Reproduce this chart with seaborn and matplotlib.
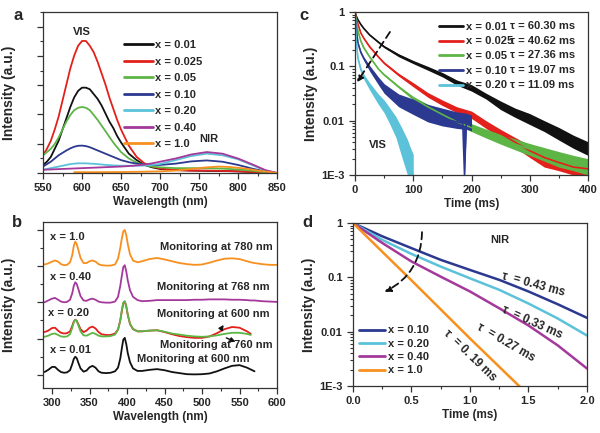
import numpy as np
import seaborn as sns
import matplotlib
matplotlib.use("Agg")
import matplotlib.pyplot as plt
from matplotlib.ticker import MultipleLocator, LogLocator, NullFormatter, FormatStrFormatter

sns.set_style("ticks")
plt.rcParams["font.family"] = ["Liberation Sans", "DejaVu Sans"]
plt.rcParams["font.weight"] = "bold"
plt.rcParams["axes.labelweight"] = "bold"

BLACK = "#111111"
RED = "#e3201b"
GREEN = "#5db546"
BLUE = "#2b3990"
CYAN = "#5bc2d9"
MAGENTA = "#a4399b"
ORANGE = "#f7901e"

# ---- panel a : emission spectra (fraction of axis height)
wl_a = [550, 555, 560, 565, 570, 575, 580, 585, 590, 595, 600, 605, 610, 615, 620, 625, 630,
        635, 640, 645, 650, 660, 670, 680, 690, 700, 720, 740, 760, 780, 800, 820, 835, 850]
a_001 = [0.05, 0.07, 0.1, 0.15, 0.2, 0.27, 0.34, 0.41, 0.47, 0.51, 0.53, 0.53, 0.52, 0.49, 0.46, 0.42,
         0.37, 0.32, 0.28, 0.23, 0.19, 0.12, 0.08, 0.05, 0.035, 0.025, 0.018, 0.015, 0.013, 0.012,
         0.01, 0.006, 0.003, 0.0]
a_0025 = [0.11, 0.15, 0.2, 0.27, 0.35, 0.45, 0.55, 0.65, 0.73, 0.79, 0.82, 0.82, 0.79, 0.75, 0.69, 0.62,
          0.55, 0.47, 0.40, 0.33, 0.27, 0.17, 0.10, 0.06, 0.04, 0.028, 0.018, 0.015, 0.015, 0.013,
          0.01, 0.006, 0.003, 0.0]
a_005 = [0.11, 0.13, 0.15, 0.18, 0.22, 0.27, 0.32, 0.36, 0.39, 0.405, 0.41, 0.405, 0.39, 0.36, 0.33,
         0.295, 0.26, 0.225, 0.19, 0.16, 0.13, 0.09, 0.065, 0.05, 0.04, 0.035, 0.03, 0.03, 0.03, 0.027,
         0.022, 0.013, 0.005, 0.0]
a_010 = [0.04, 0.055, 0.07, 0.09, 0.11, 0.125, 0.14, 0.153, 0.163, 0.169, 0.17, 0.167, 0.16, 0.15, 0.14,
         0.13, 0.12, 0.11, 0.1, 0.09, 0.08, 0.067, 0.058, 0.052, 0.05, 0.05, 0.058, 0.072, 0.078, 0.07,
         0.05, 0.025, 0.01, 0.0]
a_020 = [0.02, 0.025, 0.03, 0.035, 0.04, 0.045, 0.05, 0.055, 0.058, 0.06, 0.06, 0.06, 0.058, 0.057,
         0.055, 0.053, 0.05, 0.049, 0.047, 0.046, 0.045, 0.045, 0.045, 0.046, 0.05, 0.056, 0.08, 0.105,
         0.12, 0.11, 0.085, 0.045, 0.015, 0.0]
a_040 = [0.02, 0.021, 0.022, 0.023, 0.024, 0.025, 0.026, 0.027, 0.028, 0.029, 0.03, 0.031, 0.032, 0.033,
         0.034, 0.035, 0.036, 0.037, 0.038, 0.039, 0.04, 0.043, 0.047, 0.052, 0.06, 0.07, 0.09, 0.115,
         0.13, 0.12, 0.09, 0.05, 0.018, 0.0]
wl_a_orange = [590, 620, 650, 680, 700, 720, 740, 760, 775, 790, 810, 830, 850]
a_100 = [0.005, 0.005, 0.006, 0.008, 0.01, 0.015, 0.025, 0.035, 0.04, 0.037, 0.027, 0.012, 0.0]
labels_a = ["x = 0.01", "x = 0.025", "x = 0.05", "x = 0.10", "x = 0.20", "x = 0.40", "x = 1.0"]

# ---- panel b : excitation spectra (stacked, one unit per offset)
wl_b = [290, 295, 300, 304, 308, 312, 316, 320, 324, 327, 329, 331, 333, 335, 338, 342, 346, 350,
        354, 358, 362, 366, 372, 378, 384, 388, 391, 393, 395, 397, 399, 401, 404, 408, 414, 420,
        430, 440, 450, 460, 470, 480, 490, 500, 510, 520, 530, 540, 550, 560, 565, 570, 580, 590, 600]
b_001 = [0.08, 0.14, 0.22, 0.22, 0.14, 0.08, 0.06, 0.07, 0.13, 0.3, 0.44, 0.5, 0.46, 0.34, 0.18, 0.09,
         0.12, 0.21, 0.25, 0.2, 0.1, 0.06, 0.05, 0.06, 0.1, 0.2, 0.45, 0.72, 0.97, 1.02, 0.85, 0.6,
         0.35, 0.18, 0.11, 0.11, 0.14, 0.16, 0.13, 0.08, 0.05, 0.02, 0.015, 0.02, 0.04, 0.1, 0.18,
         0.25, 0.27, 0.2, 0.15, 0.1]
b_020_600 = [1.18, 1.22, 1.29, 1.3, 1.22, 1.16, 1.14, 1.15, 1.2, 1.35, 1.47, 1.52, 1.49, 1.4, 1.26,
             1.18, 1.22, 1.3, 1.33, 1.28, 1.18, 1.12, 1.1, 1.1, 1.14, 1.25, 1.5, 1.75, 1.97, 2.02,
             1.88, 1.65, 1.4, 1.26, 1.2, 1.2, 1.22, 1.23, 1.18, 1.12, 1.07, 1.04, 1.02, 1.02, 1.06,
             1.15, 1.26, 1.32, 1.3, 1.2, 1.13]
b_020_760 = [1.05, 1.08, 1.13, 1.14, 1.1, 1.06, 1.05, 1.06, 1.12, 1.3, 1.45, 1.52, 1.48, 1.37, 1.2,
             1.09, 1.08, 1.12, 1.16, 1.13, 1.08, 1.06, 1.06, 1.07, 1.11, 1.24, 1.5, 1.77, 1.99, 2.03,
             1.9, 1.66, 1.41, 1.27, 1.2, 1.2, 1.22, 1.23, 1.19, 1.14, 1.11, 1.08, 1.06, 1.05, 1.06,
             1.09, 1.13, 1.16, 1.16, 1.13, 1.1]
b_040 = [2.0, 2.05, 2.1, 2.12, 2.07, 2.02, 2.0, 2.01, 2.07, 2.25, 2.45, 2.55, 2.5, 2.37, 2.17, 2.05,
         2.04, 2.08, 2.1, 2.07, 2.02, 2.0, 1.99, 1.99, 2.02, 2.15, 2.45, 2.72, 2.97, 3.02, 2.85, 2.6,
         2.33, 2.15, 2.06, 2.03, 2.04, 2.06, 2.06, 2.06, 2.06, 2.06, 2.07, 2.07, 2.08, 2.08, 2.08,
         2.07, 2.07, 2.06, 2.05, 2.05, 2.03, 2.02, 2.01]
b_100 = [3.04, 3.07, 3.12, 3.15, 3.12, 3.05, 3.02, 3.03, 3.1, 3.3, 3.55, 3.67, 3.6, 3.45, 3.22, 3.08,
         3.08, 3.13, 3.15, 3.12, 3.05, 3.02, 3.01, 3.01, 3.04, 3.2, 3.5, 3.75, 3.95, 3.99, 3.85, 3.6,
         3.32, 3.15, 3.1, 3.13, 3.19, 3.22, 3.18, 3.13, 3.08, 3.05, 3.03, 3.04, 3.09, 3.15, 3.2, 3.21,
         3.19, 3.13, 3.1, 3.08, 3.05, 3.03, 3.03]

# ---- panel c : VIS decay (ms), centre line plus read noise envelope
t_c = [0, 2, 5, 10, 15, 25, 40, 50, 75, 100, 125, 150, 175, 200, 225, 250, 275, 300, 325, 350, 375, 400]
c_001 = [1, 0.85, 0.72, 0.59, 0.5, 0.38, 0.28, 0.23, 0.16, 0.12, 0.092, 0.07, 0.05, 0.04, 0.028,
         0.019, 0.014, 0.0105, 0.0078, 0.0056, 0.004, 0.003]
c_001_lo = [1, 0.84, 0.71, 0.58, 0.49, 0.37, 0.27, 0.22, 0.15, 0.112, 0.085, 0.064, 0.045, 0.035,
            0.025, 0.016, 0.0115, 0.0085, 0.0063, 0.0044, 0.0031, 0.0023]
c_001_hi = [1, 0.86, 0.73, 0.60, 0.51, 0.39, 0.29, 0.24, 0.17, 0.128, 0.1, 0.077, 0.056, 0.046,
            0.032, 0.023, 0.017, 0.0135, 0.01, 0.0075, 0.0054, 0.0041]
c_0025 = [1, 0.8, 0.6, 0.41, 0.33, 0.23, 0.15, 0.115, 0.07, 0.046, 0.03, 0.021, 0.016, 0.013, 0.0085,
          0.0058, 0.004, 0.0028, 0.0021, 0.0017, 0.0014, 0.0013]
c_0025_lo = [1, 0.79, 0.59, 0.40, 0.32, 0.22, 0.145, 0.11, 0.066, 0.042, 0.027, 0.019, 0.014, 0.011,
             0.0072, 0.0048, 0.0032, 0.0021, 0.0014, 0.0012, 0.001, 0.001]
c_0025_hi = [1, 0.81, 0.61, 0.42, 0.34, 0.24, 0.155, 0.12, 0.074, 0.05, 0.033, 0.024, 0.018, 0.015,
             0.01, 0.0069, 0.0049, 0.0035, 0.0028, 0.0023, 0.0019, 0.0017]
c_005 = [1, 0.7, 0.45, 0.29, 0.22, 0.15, 0.09, 0.07, 0.042, 0.026, 0.018, 0.013, 0.0095, 0.0075,
         0.0058, 0.0046, 0.0037, 0.003, 0.0025, 0.002, 0.0017, 0.0014]
c_005_lo = [1, 0.69, 0.44, 0.28, 0.21, 0.145, 0.087, 0.067, 0.04, 0.024, 0.016, 0.0115, 0.0082,
            0.0063, 0.0048, 0.0037, 0.0029, 0.0023, 0.0018, 0.0014, 0.0012, 0.001]
c_005_hi = [1, 0.71, 0.46, 0.30, 0.23, 0.155, 0.093, 0.073, 0.044, 0.028, 0.02, 0.0148, 0.011,
            0.0088, 0.007, 0.0056, 0.0046, 0.0038, 0.0032, 0.0027, 0.0023, 0.002]
t_c10 = [0, 2, 5, 10, 15, 25, 40, 50, 75, 100, 125, 150, 175, 185, 188, 191, 200]
c_010 = [1, 0.5, 0.27, 0.18, 0.14, 0.093, 0.055, 0.04, 0.024, 0.018, 0.014, 0.011, 0.0095, 0.009,
         0.001, 0.009, 0.008]
c_010_lo = [1, 0.49, 0.26, 0.17, 0.13, 0.082, 0.046, 0.032, 0.018, 0.013, 0.0095, 0.008, 0.0072,
            0.007, 0.001, 0.007, 0.0065]
c_010_hi = [1, 0.51, 0.28, 0.19, 0.15, 0.104, 0.064, 0.048, 0.031, 0.025, 0.02, 0.017, 0.0145,
            0.014, 0.014, 0.014, 0.013]
t_c20 = [0, 2, 5, 10, 15, 25, 40, 50, 60, 70, 80, 90, 95, 100]
c_020 = [1, 0.3, 0.14, 0.087, 0.065, 0.043, 0.025, 0.018, 0.012, 0.008, 0.0045, 0.0022, 0.0015, 0.001]
c_020_lo = [1, 0.29, 0.13, 0.08, 0.058, 0.037, 0.02, 0.014, 0.0085, 0.005, 0.0022, 0.001, 0.001, 0.001]
c_020_hi = [1, 0.31, 0.15, 0.095, 0.072, 0.05, 0.031, 0.024, 0.017, 0.012, 0.0075, 0.0045, 0.0032, 0.0024]
labels_c = ["x = 0.01", "x = 0.025", "x = 0.05", "x = 0.10", "x = 0.20"]
tau_c = ["τ = 60.30 ms", "τ = 40.62 ms", "τ = 27.36 ms", "τ = 19.07 ms", "τ = 11.09 ms"]

# ---- panel d : NIR decay (ms)
t_d = [0, 0.25, 0.5, 0.75, 1.0, 1.25, 1.5, 1.75, 2.0]
d_010 = [1, 0.57, 0.345, 0.21, 0.137, 0.09, 0.055, 0.032, 0.018]
d_020 = [1, 0.49, 0.27, 0.158, 0.096, 0.059, 0.033, 0.0175, 0.0085]
d_040 = [1, 0.43, 0.196, 0.103, 0.055, 0.027, 0.013, 0.0056, 0.0021]
t_d100 = [0, 0.5, 1.0, 1.42, 1.5]
d_100 = [1, 0.088, 0.0075, 0.001, 0.0007]
labels_d = ["x = 0.10", "x = 0.20", "x = 0.40", "x = 1.0"]
tau_d = ["τ  = 0.43 ms", "τ  = 0.33 ms", "τ  = 0.27 ms", "τ  = 0. 19 ms"]

TXT = dict(fontsize=8, fontweight="bold")


def style_ax(ax):
    ax.tick_params(which="major", direction="out", length=4, width=0.9, labelsize=8,
                   top=False, right=False, color="#333333")
    ax.tick_params(which="minor", direction="out", length=2.2, width=0.8, top=False, right=False,
                   color="#333333")
    for s in ax.spines.values():
        s.set_linewidth(0.9)
        s.set_color("#333333")
    for lab in ax.get_xticklabels() + ax.get_yticklabels():
        lab.set_fontweight("bold")


fig = plt.figure(figsize=(6, 4.33), dpi=100)

# ================= a
ax = fig.add_axes([0.0717, 0.6005, 0.39, 0.3718])
for x, y, c, lab in [(wl_a, a_001, BLACK, labels_a[0]), (wl_a, a_0025, RED, labels_a[1]),
                     (wl_a, a_005, GREEN, labels_a[2]), (wl_a, a_010, BLUE, labels_a[3]),
                     (wl_a, a_020, CYAN, labels_a[4]), (wl_a, a_040, MAGENTA, labels_a[5]),
                     (wl_a_orange, a_100, ORANGE, labels_a[6])]:
    sns.lineplot(x=x, y=y, color=c, lw=1.3, label=lab, ax=ax)
ax.set_xlim(550, 850)
ax.set_ylim(0, 1)
ax.xaxis.set_major_locator(MultipleLocator(50))
ax.xaxis.set_minor_locator(MultipleLocator(25))
ax.yaxis.set_major_locator(MultipleLocator(1 / 5.5))
ax.yaxis.set_minor_locator(MultipleLocator(0.5 / 5.5))
ax.set_yticklabels([])
ax.set_xlabel("Wavelength (nm)", fontsize=8.5, labelpad=2)
ax.set_ylabel("Intensity (a.u.)", fontsize=10, labelpad=12)
leg = ax.legend(loc="upper left", bbox_to_anchor=(0.345, 0.826), frameon=False,
                prop=dict(size=8, weight="bold"), handlelength=2.6, handletextpad=0.2,
                labelspacing=0.59, borderpad=0, borderaxespad=0)
for ln in leg.get_lines():
    ln.set_linewidth(2)
ax.text(0.167, 0.876, "VIS", transform=ax.transAxes, ha="center", va="center", **TXT)
ax.text(0.709, 0.211, "NIR", transform=ax.transAxes, ha="center", va="center", **TXT)
style_ax(ax)

# ================= b
ax = fig.add_axes([0.0717, 0.1039, 0.39, 0.3834])
for y, c in [(b_001, BLACK), (b_020_600, RED), (b_020_760, GREEN), (b_040, MAGENTA), (b_100, ORANGE)]:
    sns.lineplot(x=wl_b[:len(y)], y=y, color=c, lw=1.3, ax=ax)
ax.set_xlim(288, 600)
ax.set_ylim(-0.36, 4.21)
ax.xaxis.set_major_locator(MultipleLocator(50))
ax.xaxis.set_minor_locator(MultipleLocator(25))
ax.yaxis.set_major_locator(MultipleLocator(1))
ax.yaxis.set_minor_locator(MultipleLocator(0.5))
ax.set_yticklabels([])
ax.set_xlabel("Wavelength (nm)", fontsize=8.5, labelpad=2)
ax.set_ylabel("Intensity (a.u.)", fontsize=10, labelpad=12)
for tx, ty, s in [(0.03, 0.91, "x = 1.0"), (0.03, 0.669, "x = 0.40"),
                  (0.021, 0.452, "x = 0.20"), (0.03, 0.23, "x = 0.01")]:
    ax.text(tx, ty, s, transform=ax.transAxes, ha="left", va="center", **TXT)
for tx, ty, s in [(0.983, 0.849, "Monitoring at 780 nm"), (0.97, 0.608, "Monitoring at 768 nm"),
                  (0.97, 0.446, "Monitoring at 600 nm"), (0.983, 0.259, "Monitoring at 760 nm"),
                  (0.885, 0.175, "Monitoring at 600 nm")]:
    ax.text(tx, ty, s, transform=ax.transAxes, ha="right", va="center", **TXT)
ax.annotate("", xy=(531, 1.44), xytext=(523, 1.2),
            arrowprops=dict(arrowstyle="-|>", color=BLACK, lw=1, mutation_scale=7))
ax.annotate("", xy=(548, 0.88), xytext=(529, 1.05),
            arrowprops=dict(arrowstyle="-|>", color=BLACK, lw=1, mutation_scale=7))
style_ax(ax)

# ================= c
ax = fig.add_axes([0.5917, 0.5958, 0.3883, 0.3764])
for t, y, lo, hi, c, lab in [(t_c, c_001, c_001_lo, c_001_hi, BLACK, labels_c[0]),
                             (t_c, c_0025, c_0025_lo, c_0025_hi, RED, labels_c[1]),
                             (t_c, c_005, c_005_lo, c_005_hi, GREEN, labels_c[2]),
                             (t_c10, c_010, c_010_lo, c_010_hi, BLUE, labels_c[3]),
                             (t_c20, c_020, c_020_lo, c_020_hi, CYAN, labels_c[4])]:
    ax.fill_between(t, lo, hi, color=c, lw=0)
    sns.lineplot(x=t, y=y, color=c, lw=1.2, label=lab, ax=ax)
ax.set_yscale("log")
ax.set_xlim(0, 400)
ax.set_ylim(1e-3, 1)
ax.xaxis.set_major_locator(MultipleLocator(100))
ax.xaxis.set_minor_locator(MultipleLocator(50))
ax.set_yticks([1e-3, 1e-2, 1e-1, 1], ["1E-3", "0.01", "0.1", "1"])
ax.yaxis.set_minor_locator(LogLocator(base=10, subs=np.arange(2, 10)))
ax.yaxis.set_minor_formatter(NullFormatter())
ax.set_xlabel("Time (ms)", fontsize=8.5, labelpad=2)
ax.set_ylabel("Intensity (a.u.)", fontsize=10, labelpad=2)
leg = ax.legend(loc="upper left", bbox_to_anchor=(0.36, 0.94), frameon=False,
                prop=dict(size=8, weight="bold"), handlelength=2.2, handletextpad=0.2,
                labelspacing=0.42, borderpad=0, borderaxespad=0)
for ln in leg.get_lines():
    ln.set_linewidth(2)
for ty, s in zip([0.914, 0.822, 0.736, 0.644, 0.552], tau_c):
    ax.text(0.665, ty, s, transform=ax.transAxes, ha="left", va="center", **TXT)
ax.annotate("", xy=(3.4, 0.051), xytext=(60, 0.43),
            arrowprops=dict(arrowstyle="-|>", color=BLACK, lw=1.3, linestyle=(0, (4, 2.5)),
                            mutation_scale=9, shrinkA=0, shrinkB=0))
ax.text(0.099, 0.184, "VIS", transform=ax.transAxes, ha="center", va="center", **TXT)
style_ax(ax)

# ================= d
ax = fig.add_axes([0.5883, 0.1085, 0.39, 0.3764])
for t, y, c, lab in [(t_d, d_010, BLUE, labels_d[0]), (t_d, d_020, CYAN, labels_d[1]),
                     (t_d, d_040, MAGENTA, labels_d[2]), (t_d100, d_100, ORANGE, labels_d[3])]:
    sns.lineplot(x=t, y=y, color=c, lw=1.8, label=lab, ax=ax)
ax.set_yscale("log")
ax.set_xlim(0, 2)
ax.set_ylim(1e-3, 1)
ax.xaxis.set_major_locator(MultipleLocator(0.5))
ax.xaxis.set_minor_locator(MultipleLocator(0.25))
ax.xaxis.set_major_formatter(FormatStrFormatter("%.1f"))
ax.set_yticks([1e-3, 1e-2, 1e-1, 1], ["1E-3", "0.01", "0.1", "1"])
ax.yaxis.set_minor_locator(LogLocator(base=10, subs=np.arange(2, 10)))
ax.yaxis.set_minor_formatter(NullFormatter())
ax.set_xlabel("Time (ms)", fontsize=8.5, labelpad=2)
ax.set_ylabel("Intensity (a.u.)", fontsize=10, labelpad=2)
leg = ax.legend(loc="lower left", bbox_to_anchor=(0.025, 0.065), frameon=False,
                prop=dict(size=8, weight="bold"), handlelength=2.4, handletextpad=0.2,
                labelspacing=0.3, borderpad=0, borderaxespad=0)
for ln in leg.get_lines():
    ln.set_linewidth(2)
for (tx, ty, rot), s in zip([(0.769, 0.62, -15), (0.765, 0.387, -24),
                             (0.654, 0.264, -30), (0.5, 0.184, -44)], tau_d):
    ax.text(tx, ty, s, transform=ax.transAxes, ha="center", va="center",
            rotation=rot, rotation_mode="anchor", fontsize=8.5, fontweight="bold")
ax.annotate("", xy=(0.27, 0.054), xytext=(0.59, 0.68),
            arrowprops=dict(arrowstyle="-|>", color=BLACK, lw=1.3, linestyle=(0, (4, 2.5)),
                            mutation_scale=9, shrinkA=0, shrinkB=0,
                            connectionstyle="arc3,rad=-0.3"))
ax.text(0.628, 0.896, "NIR", transform=ax.transAxes, ha="center", va="center", **TXT)
style_ax(ax)

for tx, ty, s in [(0.03, 0.965, "a"), (0.028, 0.485, "b"), (0.507, 0.965, "c"), (0.512, 0.487, "d")]:
    fig.text(tx, ty, s, ha="center", va="center", fontsize=12, fontweight="bold")

fig.savefig("out.png", dpi=100)
